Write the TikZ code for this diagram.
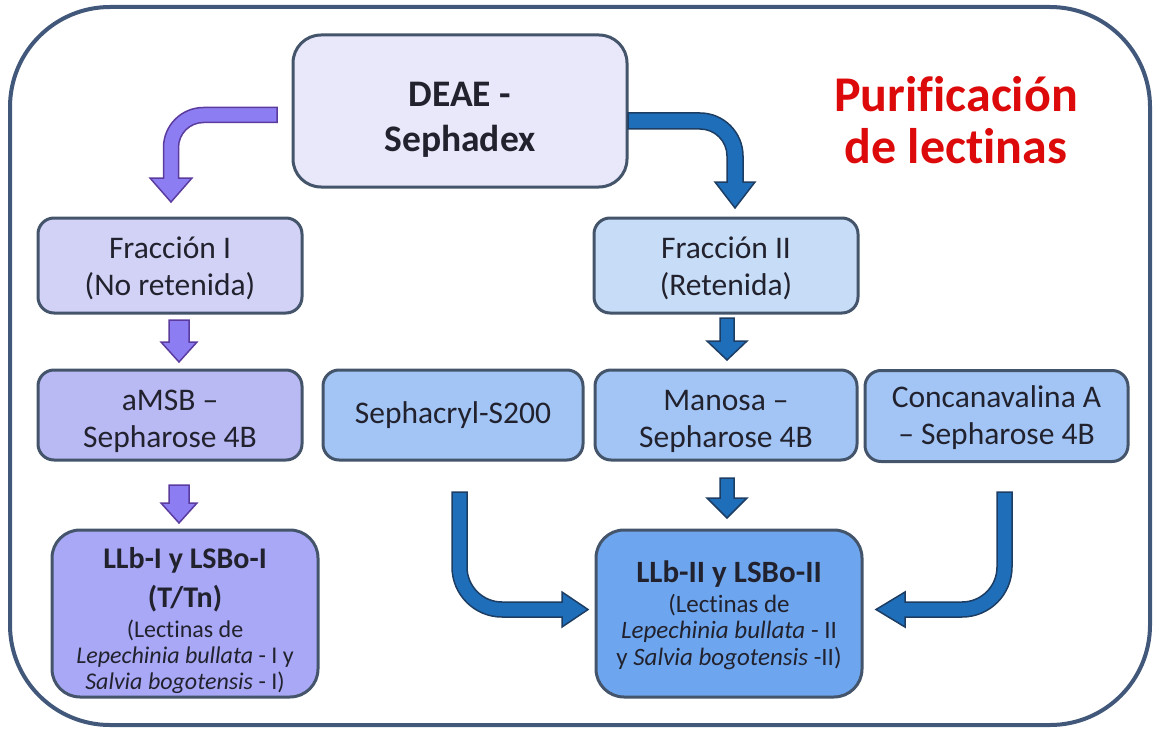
\documentclass[tikz,border=0pt]{standalone}
\usepackage{fontspec}
\setmainfont{Carlito}[Ligatures=NoCommon]
\definecolor{framec}{HTML}{41587A}
\definecolor{boxborder}{HTML}{44546A}
\definecolor{deaefill}{HTML}{E8E8FA}
\definecolor{fronefill}{HTML}{D2D2F7}
\definecolor{frtwofill}{HTML}{C7DCF6}
\definecolor{amsbfill}{HTML}{B9B9F4}
\definecolor{midblue}{HTML}{A2C5F5}
\definecolor{llbonefill}{HTML}{A8A8F6}
\definecolor{llbtwofill}{HTML}{6DA6EE}
\definecolor{parrowfill}{HTML}{8C7EF2}
\definecolor{parrowline}{HTML}{5B3C9E}
\definecolor{barrowfill}{HTML}{1F6EBA}
\definecolor{barrowline}{HTML}{1D3D63}
\definecolor{titlered}{HTML}{DC0A0A}
\definecolor{txt}{HTML}{22222E}
\newcommand{\lift}[1]{\rule{0pt}{#1}}
\tikzset{
  stagebox/.style={rectangle, rounded corners=16pt, draw=boxborder, line width=3pt,
    text=txt, align=center, inner sep=0pt,
    font=\fontsize{31.5}{37}\selectfont},
  bigbox/.style={stagebox, rounded corners=28pt},
  parrow/.style={fill=parrowfill, draw=parrowline, line width=1.5pt, line join=miter},
  barrow/.style={fill=barrowfill, draw=barrowline, line width=1.5pt, line join=miter},
}
\begin{document}
\begin{tikzpicture}[x=1pt,y=-1pt]
\useasboundingbox (0,0) rectangle (1155,730);
% outer frame
\draw[draw=framec, line width=4pt, rounded corners=100pt] (10,7) rectangle (1150,725);

% nodes
\node[bigbox, fill=deaefill, minimum width=334pt, minimum height=152pt,
      font=\fontsize{37.5}{45}\selectfont\bfseries] (deae) at (460,111) {\lift{41pt}DEAE -\\Sephadex};
\node[text=titlered, align=center, inner sep=0pt, font=\fontsize{50}{52}\selectfont\bfseries] (title) at (956,120)
      {Purificación\\de lectinas};

\node[stagebox, fill=fronefill, minimum width=264pt, minimum height=95pt] (fr1) at (170,265.5)
      {\lift{28pt}Fracción I\\(No retenida)};
\node[stagebox, fill=frtwofill, minimum width=264pt, minimum height=95pt] (fr2) at (726,265.5)
      {\lift{28pt}Fracción II\\(Retenida)};

\node[stagebox, fill=amsbfill, minimum width=264pt, minimum height=90pt] (amsb) at (170,415)
      {\lift{34pt}aMSB –\\Sepharose 4B};
\node[stagebox, fill=midblue, minimum width=260pt, minimum height=90pt] (seph) at (453,415)
      {Sephacryl-S200};
\node[stagebox, fill=midblue, minimum width=262pt, minimum height=90pt] (manosa) at (726,415)
      {\lift{34pt}Manosa –\\Sepharose 4B};
\node[stagebox, fill=midblue, minimum width=263pt, minimum height=91pt] (conca) at (996.5,416)
      {\lift{25pt}Concanavalina A\\– Sepharose 4B};

\node[bigbox, fill=llbonefill, minimum width=266pt, minimum height=167pt,
      font=\fontsize{24}{26}\selectfont] (llb1) at (185,613.5)
      {{\fontsize{30}{37}\selectfont\bfseries \lift{35pt}LLb-I y LSBo-I}\\[11pt]
       {\fontsize{30}{37}\selectfont\bfseries (T/Tn)}\\[4pt]
       (Lectinas de\\
       \textit{Lepechinia bullata} - I y\\
       \textit{Salvia bogotensis} - I)};
\node[bigbox, fill=llbtwofill, minimum width=266pt, minimum height=167pt,
      font=\fontsize{25}{26.5}\selectfont] (llb2) at (729,613.5)
      {{\fontsize{31}{35}\selectfont\bfseries \lift{25pt}LLb-II y LSBo-II}\\[3.5pt]
       (Lectinas de\\
       \textit{Lepechinia bullata} - II\\
       y \textit{Salvia bogotensis} -II)};

% bent arrow: DEAE -> Fraccion I
\draw[parrow] (277,107.5) -- (203.5,107.5)
  .. controls (181.4,107.5) and (163.5,125.4) .. (163.5,147.5)
  -- (163.5,178) -- (150,178) -- (171,202) -- (192,178) -- (178.5,178) -- (178.5,147.5)
  .. controls (178.5,133.7) and (189.7,122.5) .. (203.5,122.5)
  -- (277,122.5) -- cycle;
% bent arrow: DEAE -> Fraccion II
\draw[barrow] (628,113) -- (700,113)
  .. controls (723.7,113) and (743,132.3) .. (743,156)
  -- (743,182) -- (755,182) -- (735,208) -- (715,182) -- (727,182) -- (727,156)
  .. controls (727,141.1) and (714.9,129) .. (700,129)
  -- (628,129) -- cycle;

% small purple arrows
\draw[parrow] (169,320) -- (189,320) -- (189,342) -- (197,342) -- (179,362) -- (161,342) -- (169,342) -- cycle;
\draw[parrow] (169,485) -- (189,485) -- (189,503) -- (197,503) -- (179,523) -- (161,503) -- (169,503) -- cycle;
% small blue arrows
\draw[barrow] (720,318) -- (734,318) -- (734,341) -- (747,341) -- (727,360) -- (707,341) -- (720,341) -- cycle;
\draw[barrow] (720,478) -- (734,478) -- (734,498) -- (747,498) -- (727,518) -- (707,498) -- (720,498) -- cycle;

% bent arrow: Sephacryl -> LLb-II
\draw[barrow] (452,492) -- (452,567)
  .. controls (452,594.6) and (474.4,617) .. (502,617)
  -- (562,617) -- (562,627) -- (588,609.5) -- (562,592) -- (562,602) -- (502,602)
  .. controls (482.7,602) and (467,586.3) .. (467,567)
  -- (467,492) -- cycle;
% bent arrow: Concanavalina -> LLb-II
\draw[barrow] (1012,492) -- (1012,567)
  .. controls (1012,594.6) and (989.6,617) .. (962,617)
  -- (905,617) -- (905,627) -- (876,609.5) -- (905,592) -- (905,602) -- (962,602)
  .. controls (981.3,602) and (997,586.3) .. (997,567)
  -- (997,492) -- cycle;
\end{tikzpicture}
\end{document}
